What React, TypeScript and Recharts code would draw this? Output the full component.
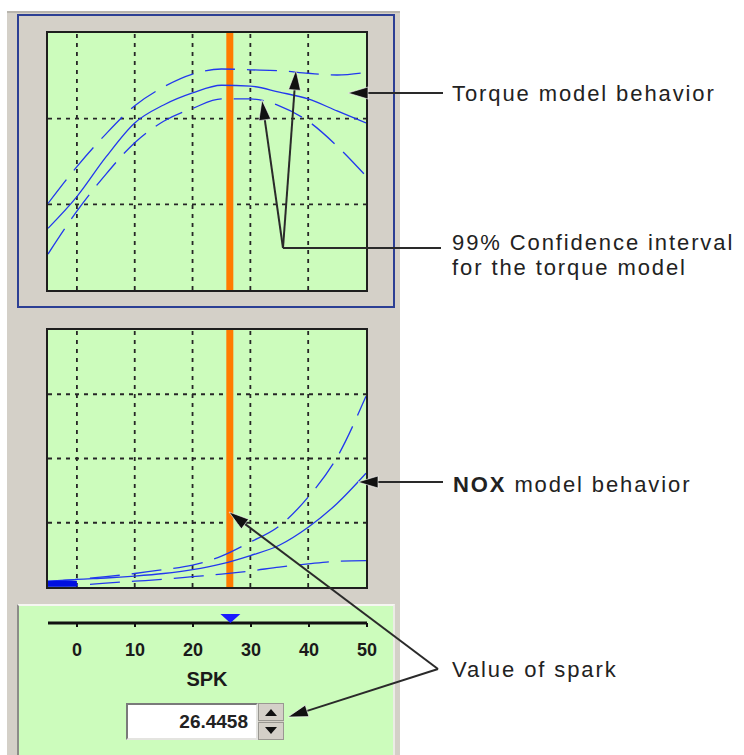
import React from "react";
import { ComposedChart, Line, XAxis, YAxis, ReferenceLine, Scatter } from "recharts";

// spark sweep (x) and the model curves
const SPK = [-5, 0, 5, 10, 15, 20, 25, 30, 35, 40, 45, 50];
const TORQUE_FIT = [0.72, 1.09, 1.55, 1.95, 2.16, 2.3, 2.39, 2.38, 2.31, 2.23, 2.09, 1.95];
const TORQUE_UPPER = [1.01, 1.44, 1.82, 2.15, 2.37, 2.52, 2.58, 2.57, 2.56, 2.53, 2.51, 2.54];
const TORQUE_LOWER = [0.42, 0.92, 1.35, 1.72, 1.97, 2.12, 2.23, 2.23, 2.15, 1.97, 1.68, 1.33];
const NOX_FIT = [0.08, 0.12, 0.14, 0.17, 0.21, 0.27, 0.36, 0.49, 0.65, 0.93, 1.3, 1.77];
const NOX_UPPER = [0.09, 0.12, 0.16, 0.21, 0.27, 0.34, 0.48, 0.7, 0.95, 1.4, 2.02, 2.97];
const NOX_LOWER = [0.02, 0.03, 0.06, 0.09, 0.12, 0.16, 0.2, 0.25, 0.31, 0.36, 0.4, 0.41];
const NOX_FLOOR = [0.05, 0.05, null, null, null, null, null, null, null, null, null, null];

const SPK_VALUE = 26.4458;
const GRID_X = [0, 10, 20, 30, 40];
const TORQUE_GRID_Y = [1, 2];
const NOX_GRID_Y = [1, 2, 3];
const SLIDER_TICKS = [0, 10, 20, 30, 40, 50];

const GREEN = "#ccfcbc";
const GRAY = "#d4d0c8";
const BLUE = "#2238ee";
const FONT = "'Liberation Sans', Arial, sans-serif";

const torqueRows = SPK.map((x, i) => ({
  x,
  fit: TORQUE_FIT[i],
  upper: TORQUE_UPPER[i],
  lower: TORQUE_LOWER[i],
}));

const noxRows = SPK.map((x, i) => ({
  x,
  fit: NOX_FIT[i],
  upper: NOX_UPPER[i],
  lower: NOX_LOWER[i],
  floor: NOX_FLOOR[i],
}));

function ModelPlot({ rows, yMax, gridY, top }: { rows: any[]; yMax: number; gridY: number[]; top: number }) {
  return (
    <div
      style={{
        position: "absolute",
        left: 46,
        top: top - 2,
        width: 318,
        height: 257,
        border: "2px solid #1e1e1e",
        background: GREEN,
      }}
    >
      <ComposedChart width={318} height={257} data={rows} margin={{ top: 0, right: 0, bottom: 0, left: 0 }}>
        <XAxis type="number" dataKey="x" domain={[-5, 50]} allowDataOverflow hide />
        <YAxis type="number" domain={[0, yMax]} allowDataOverflow hide />
        {GRID_X.map((v) => (
          <ReferenceLine key={"gx" + v} x={v} stroke="#262626" strokeWidth={1.8} strokeDasharray="4 5" />
        ))}
        {gridY.map((v) => (
          <ReferenceLine key={"gy" + v} y={v} stroke="#262626" strokeWidth={1.8} strokeDasharray="4 5" />
        ))}
        <ReferenceLine x={SPK_VALUE} stroke="#ff7b00" strokeWidth={7} />
        <Line dataKey="upper" type="monotone" stroke={BLUE} strokeWidth={1.3} strokeDasharray="30 12" dot={false} isAnimationActive={false} />
        <Line dataKey="fit" type="monotone" stroke={BLUE} strokeWidth={1.3} dot={false} isAnimationActive={false} />
        <Line dataKey="lower" type="monotone" stroke={BLUE} strokeWidth={1.3} strokeDasharray="30 12" dot={false} isAnimationActive={false} />
        {rows[0].floor !== undefined && (
          <Line dataKey="floor" type="linear" stroke="#0010e0" strokeWidth={6} dot={false} connectNulls={false} isAnimationActive={false} />
        )}
      </ComposedChart>
    </div>
  );
}

function Marker(props: any) {
  const { cx, cy } = props;
  return <polygon points={`${cx - 10},${cy - 9} ${cx + 10},${cy - 9} ${cx},${cy}`} fill="#1a1aff" />;
}

function Arrow({ x1, y1, x2, y2 }: { x1: number; y1: number; x2: number; y2: number }) {
  // line from (x1,y1) with a filled head at (x2,y2)
  const dx = x2 - x1;
  const dy = y2 - y1;
  const len = Math.sqrt(dx * dx + dy * dy);
  const ux = dx / len;
  const uy = dy / len;
  const bx = x2 - ux * 20;
  const by = y2 - uy * 20;
  const head = `${x2},${y2} ${bx - uy * 6},${by + ux * 6} ${bx + uy * 6},${by - ux * 6}`;
  return (
    <g>
      <line x1={x1} y1={y1} x2={bx + ux * 4} y2={by + uy * 4} stroke="#2a2a2a" strokeWidth={2} />
      <polygon points={head} fill="#111" stroke="#fff" strokeWidth={1} strokeOpacity={0.6} />
    </g>
  );
}

export default function App() {
  const marker = [{ x: SPK_VALUE, y: 0 }];
  return (
    <div style={{ position: "absolute", left: 0, top: 0, width: 744, height: 755, background: "#fff", overflow: "hidden", fontFamily: FONT }}>
      {/* tool panel */}
      <div style={{ position: "absolute", left: 7, top: 11, width: 393, height: 744, background: GRAY, borderTop: "2px solid #b8b5ae" }} />
      <div style={{ position: "absolute", left: 17, top: 14, width: 374, height: 290, border: "2px solid #2c3f94" }} />

      <ModelPlot rows={torqueRows} yMax={3} gridY={TORQUE_GRID_Y} top={33} />
      <ModelPlot rows={noxRows} yMax={4} gridY={NOX_GRID_Y} top={330} />

      {/* spark slider */}
      <div
        style={{
          position: "absolute",
          left: 17,
          top: 604,
          width: 374,
          height: 151,
          background: GREEN,
          borderTop: "2px solid #f6f6f2",
          borderLeft: "2px solid #8c8c88",
          borderRight: "2px solid #ecece6",
        }}
      />
      <div style={{ position: "absolute", left: 38, top: 600 }}>
        <ComposedChart width={339} height={70} margin={{ top: 5, right: 10, bottom: 0, left: 10 }}>
          <XAxis
            type="number"
            dataKey="x"
            domain={[-5, 50]}
            allowDataOverflow
            ticks={SLIDER_TICKS}
            height={47}
            axisLine={{ stroke: "#111", strokeWidth: 3 }}
            tickLine={{ stroke: "#111", strokeWidth: 2 }}
            tickSize={4}
            tickMargin={16}
            tick={{ fill: "#1a1a1a", fontSize: 18, fontWeight: "bold", fontFamily: FONT }}
          />
          <YAxis type="number" dataKey="y" domain={[0, 1]} hide />
          <Scatter data={marker} shape={<Marker />} isAnimationActive={false} />
        </ComposedChart>
      </div>
      <div style={{ position: "absolute", left: 48, top: 668, width: 318, textAlign: "center", fontWeight: "bold", fontSize: 20, color: "#1a1a1a" }}>
        SPK
      </div>

      {/* value box + spinner */}
      <div
        style={{
          position: "absolute",
          left: 126,
          top: 703,
          width: 128,
          height: 33,
          background: "#fff",
          borderTop: "2px solid #7a7a7a",
          borderLeft: "2px solid #7a7a7a",
          borderBottom: "2px solid #e4e4e0",
          borderRight: "2px solid #e4e4e0",
          textAlign: "right",
          fontWeight: "bold",
          fontSize: 19,
          lineHeight: "33px",
          color: "#222",
        }}
      >
        <span style={{ paddingRight: 8 }}>{SPK_VALUE.toFixed(4)}</span>
      </div>
      <div style={{ position: "absolute", left: 258, top: 703, width: 26, height: 37, background: GRAY }}>
        <svg width={26} height={37}>
          <rect x={0.5} y={0.5} width={25} height={17} fill={GRAY} stroke="#9a9892" />
          <rect x={0.5} y={19.5} width={25} height={17} fill={GRAY} stroke="#9a9892" />
          <polygon points="7,13 19,13 13,6" fill="#111" />
          <polygon points="7,24 19,24 13,31" fill="#111" />
        </svg>
      </div>

      {/* annotations */}
      <svg width={744} height={755} style={{ position: "absolute", left: 0, top: 0, pointerEvents: "none" }}>
        <Arrow x1={443} y1={93} x2={348} y2={93} />
        <line x1={441} y1={248} x2={283} y2={248} stroke="#2a2a2a" strokeWidth={2} />
        <Arrow x1={283} y1={248} x2={262} y2={100} />
        <Arrow x1={283} y1={248} x2={296} y2={70} />
        <Arrow x1={443} y1={482} x2={358} y2={482} />
        <Arrow x1={438} y1={669} x2={229} y2={512} />
        <Arrow x1={438} y1={669} x2={288} y2={717} />

        <g fontFamily={FONT} fontSize={22} fill="#222" letterSpacing={1.9}>
          <text x={452} y={101}>Torque model behavior</text>
          <text x={452} y={250}>99% Confidence interval</text>
          <text x={452} y={275}>for the torque model</text>
          <text x={453} y={492}>
            <tspan fontWeight="bold">NOX</tspan> model behavior
          </text>
          <text x={452} y={677}>Value of spark</text>
        </g>
      </svg>
    </div>
  );
}
